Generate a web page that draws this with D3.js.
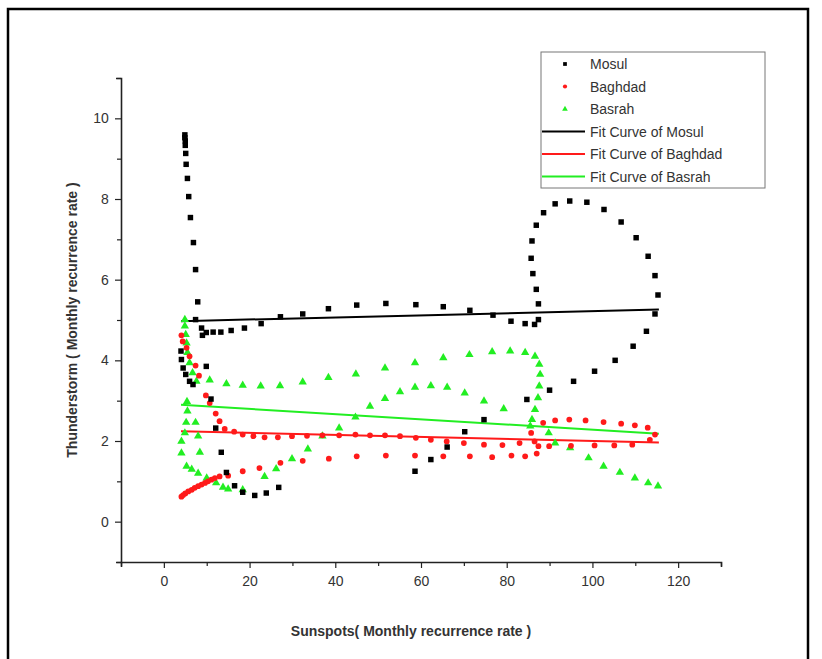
<!DOCTYPE html>
<html>
<head>
<meta charset="utf-8">
<script src="https://cdn.jsdelivr.net/npm/d3@7/dist/d3.min.js"></script>
<style>
  body { margin: 0; background: #fff; }
  svg { display: block; font-family: "Liberation Sans", Arial, sans-serif; }
</style>
</head>
<body>
<svg id="chart" width="822" height="659"></svg>
<script>
"use strict";

// Mosul (black squares)
const mosulX = [4.9, 4.9, 5.0, 5.0, 5.1, 5.2, 5.5, 5.8, 6.2, 6.9, 7.4, 7.9,
  7.4, 8.8, 9.0, 9.9, 11.5, 13.3, 15.7, 18.8, 22.7, 27.2, 32.4, 38.4, 45.0, 51.8, 58.8, 65.2, 71.4, 76.8,
  81.0, 84.3, 86.5, 87.4, 87.4, 86.9, 86.1, 85.7, 85.9, 86.9, 88.6, 91.3, 94.7, 98.7, 102.7, 106.7,
  110.2, 113.0, 114.6, 115.3, 114.6, 112.6, 109.5, 105.3, 100.5, 95.6, 90.0, 84.7,
  74.7, 70.2, 66.1, 62.3, 58.6,
  26.8, 23.9, 21.2, 18.4, 16.5, 14.6, 13.4, 12.1, 11.0, 9.9, 6.8, 6.0, 5.1, 4.5, 4.1, 4.0];
const mosulY = [9.59, 9.52, 9.44, 9.33, 9.13, 8.86, 8.51, 8.06, 7.54, 6.92, 6.25, 5.45,
  5.01, 4.80, 4.62, 4.69, 4.70, 4.70, 4.74, 4.80, 4.91, 5.08, 5.15, 5.28, 5.37, 5.41, 5.38, 5.33, 5.24, 5.12,
  4.97, 4.91, 4.89, 5.01, 5.40, 5.76, 6.15, 6.53, 6.96, 7.35, 7.66, 7.88, 7.95, 7.92, 7.74, 7.43,
  7.04, 6.58, 6.10, 5.62, 5.15, 4.72, 4.35, 4.00, 3.73, 3.48, 3.26, 3.03,
  2.53, 2.23, 1.85, 1.54, 1.25,
  0.85, 0.71, 0.65, 0.73, 0.89, 1.22, 1.72, 2.32, 3.04, 3.85, 3.40, 3.48, 3.65, 3.81, 4.02, 4.23];

// Baghdad (red circles)
const baghdadX = [4.1, 4.4, 5.3, 6.0, 7.4, 8.2, 9.8, 10.7, 12.1, 13.0, 14.2, 16.4, 18.4, 20.9, 23.5, 26.6, 29.9,
  33.4, 37.0, 40.9, 44.7, 48.1, 51.6, 55.1, 58.8, 62.3, 66.0, 70.0, 74.7, 79.0, 83.0,
  85.7, 86.5, 87.4, 88.5, 91.3, 94.6, 98.4, 102.6, 106.7, 109.9, 112.9, 114.6, 113.4,
  109.3, 105.1, 100.5, 95.0, 89.9, 87.0, 84.3, 81.1, 76.6, 71.4, 65.2, 58.6, 51.8, 45.0, 38.5, 32.4,
  27.2, 22.3, 18.4, 15.0, 13.0, 11.9, 11.1, 10.3, 9.6, 8.8, 8.0, 7.2, 6.5, 5.7, 5.0, 4.5, 4.1];
const baghdadY = [4.62, 4.47, 4.31, 4.10, 3.87, 3.62, 3.13, 2.94, 2.68, 2.49, 2.30, 2.23, 2.16, 2.12, 2.09, 2.09, 2.12,
  2.13, 2.14, 2.14, 2.16, 2.14, 2.14, 2.12, 2.08, 2.03, 1.99, 1.95, 1.91, 1.90, 1.95,
  2.20, 1.99, 1.87, 2.45, 2.51, 2.53, 2.51, 2.47, 2.43, 2.39, 2.33, 2.16, 2.03,
  1.91, 1.89, 1.89, 1.88, 1.87, 1.69, 1.62, 1.64, 1.60, 1.62, 1.62, 1.64, 1.64, 1.62, 1.56, 1.51,
  1.46, 1.33, 1.25, 1.14, 1.12, 1.08, 1.04, 1.00, 0.96, 0.92, 0.88, 0.84, 0.79, 0.75, 0.70, 0.66, 0.62];

// Basrah (green triangles)
const basrahX = [4.9, 4.9, 5.1, 5.3, 5.5, 6.0, 6.7, 7.6, 10.7, 14.6, 18.4, 22.6, 27.1, 32.4, 38.4, 44.8,
  51.6, 58.6, 65.2, 71.3, 76.6, 80.8, 84.3, 86.6, 87.6, 87.8, 87.6, 87.3, 86.6, 85.9, 85.5,
  89.8, 91.3, 94.8, 99.1, 102.6, 106.4, 109.9, 113.0, 115.3,
  79.3, 74.7, 70.2, 66.1, 62.3, 58.6, 55.1, 51.6, 48.1, 44.7, 40.9, 37.0, 33.6, 29.9, 26.2, 23.5,
  18.4, 15.0, 13.8, 12.2, 10.0, 8.0, 6.5, 5.3, 4.1, 4.1, 4.9, 5.2, 5.5, 5.4, 8.4, 8.0, 7.4];
const basrahY = [5.01, 4.85, 4.64, 4.43, 4.19, 3.94, 3.69, 3.48, 3.51, 3.42, 3.38, 3.36, 3.37, 3.46, 3.57, 3.66,
  3.81, 3.94, 4.06, 4.14, 4.21, 4.23, 4.19, 4.10, 3.90, 3.65, 3.36, 3.07, 2.78, 2.53, 2.37,
  2.20, 1.95, 1.83, 1.58, 1.37, 1.22, 1.08, 0.96, 0.88,
  2.80, 2.99, 3.19, 3.33, 3.37, 3.33, 3.22, 3.05, 2.86, 2.59, 2.32, 2.12, 1.80, 1.56, 1.31, 1.12,
  0.79, 0.81, 0.85, 0.96, 1.08, 1.20, 1.30, 1.37, 1.70, 1.99, 2.20, 2.46, 2.74, 2.98, 1.72, 2.12, 2.46];

// linear fit endpoints
const fitX = [4, 115.5];
const fitMosul = [4.97, 5.26];
const fitBaghdad = [2.24, 1.96];
const fitBasrah = [2.90, 2.18];

const legendLabels = ["Mosul", "Baghdad", "Basrah", "Fit Curve of Mosul", "Fit Curve of Baghdad", "Fit Curve of Basrah"];

const BLACK = "#000000", RED = "#ff1a1a", GREEN = "#22ee22";

const svg = d3.select("#chart");

// outer frame
svg.append("rect")
    .attr("x", 8).attr("y", 9)
    .attr("width", 800).attr("height", 660)
    .attr("fill", "none")
    .attr("stroke", "#000")
    .attr("stroke-width", 2.5);

const x = d3.scaleLinear().domain([-10, 130]).range([121, 721]);
const y = d3.scaleLinear().domain([-1, 11]).range([562, 78]);

// axes
const xAxis = svg.append("g").attr("transform", `translate(0,${y(-1)})`)
    .call(d3.axisBottom(x).tickValues(d3.range(-10, 131, 10)).tickSize(5)
        .tickFormat(d => d % 20 === 0 && d >= 0 && d <= 120 ? d : ""));
const yAxis = svg.append("g").attr("transform", `translate(${x(-10)},0)`)
    .call(d3.axisLeft(y).tickValues(d3.range(-1, 12, 1)).tickSize(5)
        .tickFormat(d => d % 2 === 0 && d >= 0 && d <= 10 ? d : ""));

[xAxis, yAxis].forEach(g => {
    g.select(".domain").attr("stroke", "#222").attr("stroke-width", 1.6);
    g.selectAll(".tick line").attr("stroke", "#222").attr("stroke-width", 1.2);
    g.selectAll(".tick text").attr("font-size", 14).attr("fill", "#333")
        .attr("font-family", "'Liberation Sans', Arial, sans-serif");
});
xAxis.selectAll(".tick text").attr("dy", "1.15em");
yAxis.selectAll(".tick text").attr("dx", "-0.3em");
// minor ticks shorter
xAxis.selectAll(".tick line").attr("y2", d => d % 20 === 0 ? 6 : 4);
yAxis.selectAll(".tick line").attr("x2", d => d % 2 === 0 ? -6 : -4);

// axis titles
svg.append("text")
    .attr("x", 411).attr("y", 636)
    .attr("text-anchor", "middle")
    .attr("font-size", 14).attr("font-weight", "bold").attr("fill", "#333")
    .text("Sunspots( Monthly recurrence rate )");
svg.append("text")
    .attr("transform", `translate(77,320) rotate(-90)`)
    .attr("text-anchor", "middle")
    .attr("font-size", 14).attr("font-weight", "bold").attr("fill", "#333")
    .text("Thunderstorm ( Monthly recurrence rate )");

const plot = svg.append("g");

function zip(xs, ys) { return xs.map((v, i) => [v, ys[i]]); }

// fit lines
const line = d3.line().x(d => x(d[0])).y(d => y(d[1]));
[[fitMosul, BLACK], [fitBaghdad, RED], [fitBasrah, GREEN]].forEach(([ys, c]) => {
    plot.append("path")
        .datum(zip(fitX, ys))
        .attr("d", line)
        .attr("fill", "none")
        .attr("stroke", c)
        .attr("stroke-width", 2);
});

// scatter points
const square = d3.symbol().type(d3.symbolSquare).size(30);
const circle = d3.symbol().type(d3.symbolCircle).size(26);
const tri = d3.symbol().type(d3.symbolTriangle).size(30);

plot.selectAll(".basrah").data(zip(basrahX, basrahY)).enter().append("path")
    .attr("class", "basrah")
    .attr("d", tri)
    .attr("transform", d => `translate(${x(d[0])},${y(d[1])})`)
    .attr("fill", GREEN);
plot.selectAll(".baghdad").data(zip(baghdadX, baghdadY)).enter().append("path")
    .attr("class", "baghdad")
    .attr("d", circle)
    .attr("transform", d => `translate(${x(d[0])},${y(d[1])})`)
    .attr("fill", RED);
plot.selectAll(".mosul").data(zip(mosulX, mosulY)).enter().append("path")
    .attr("class", "mosul")
    .attr("d", square)
    .attr("transform", d => `translate(${x(d[0])},${y(d[1])})`)
    .attr("fill", BLACK);

// legend
const legend = svg.append("g").attr("transform", "translate(541,52)");
legend.append("rect")
    .attr("width", 224).attr("height", 136)
    .attr("fill", "#fff")
    .attr("stroke", "#777").attr("stroke-width", 1);

const legendSymbols = [square, circle, tri];
const legendColors = [BLACK, RED, GREEN];
legendLabels.forEach((label, i) => {
    const row = legend.append("g").attr("transform", `translate(0,${12 + i * 22.5})`);
    if (i < 3) {
        row.append("path")
            .attr("d", d3.symbol().type([d3.symbolSquare, d3.symbolCircle, d3.symbolTriangle][i]).size(14))
            .attr("transform", "translate(24,0)")
            .attr("fill", legendColors[i]);
    } else {
        row.append("line")
            .attr("x1", 1).attr("x2", 44)
            .attr("stroke", legendColors[i - 3]).attr("stroke-width", 2);
    }
    row.append("text")
        .attr("x", 49).attr("y", 5)
        .attr("font-size", 14).attr("fill", "#333")
        .text(label);
});
</script>
</body>
</html>
